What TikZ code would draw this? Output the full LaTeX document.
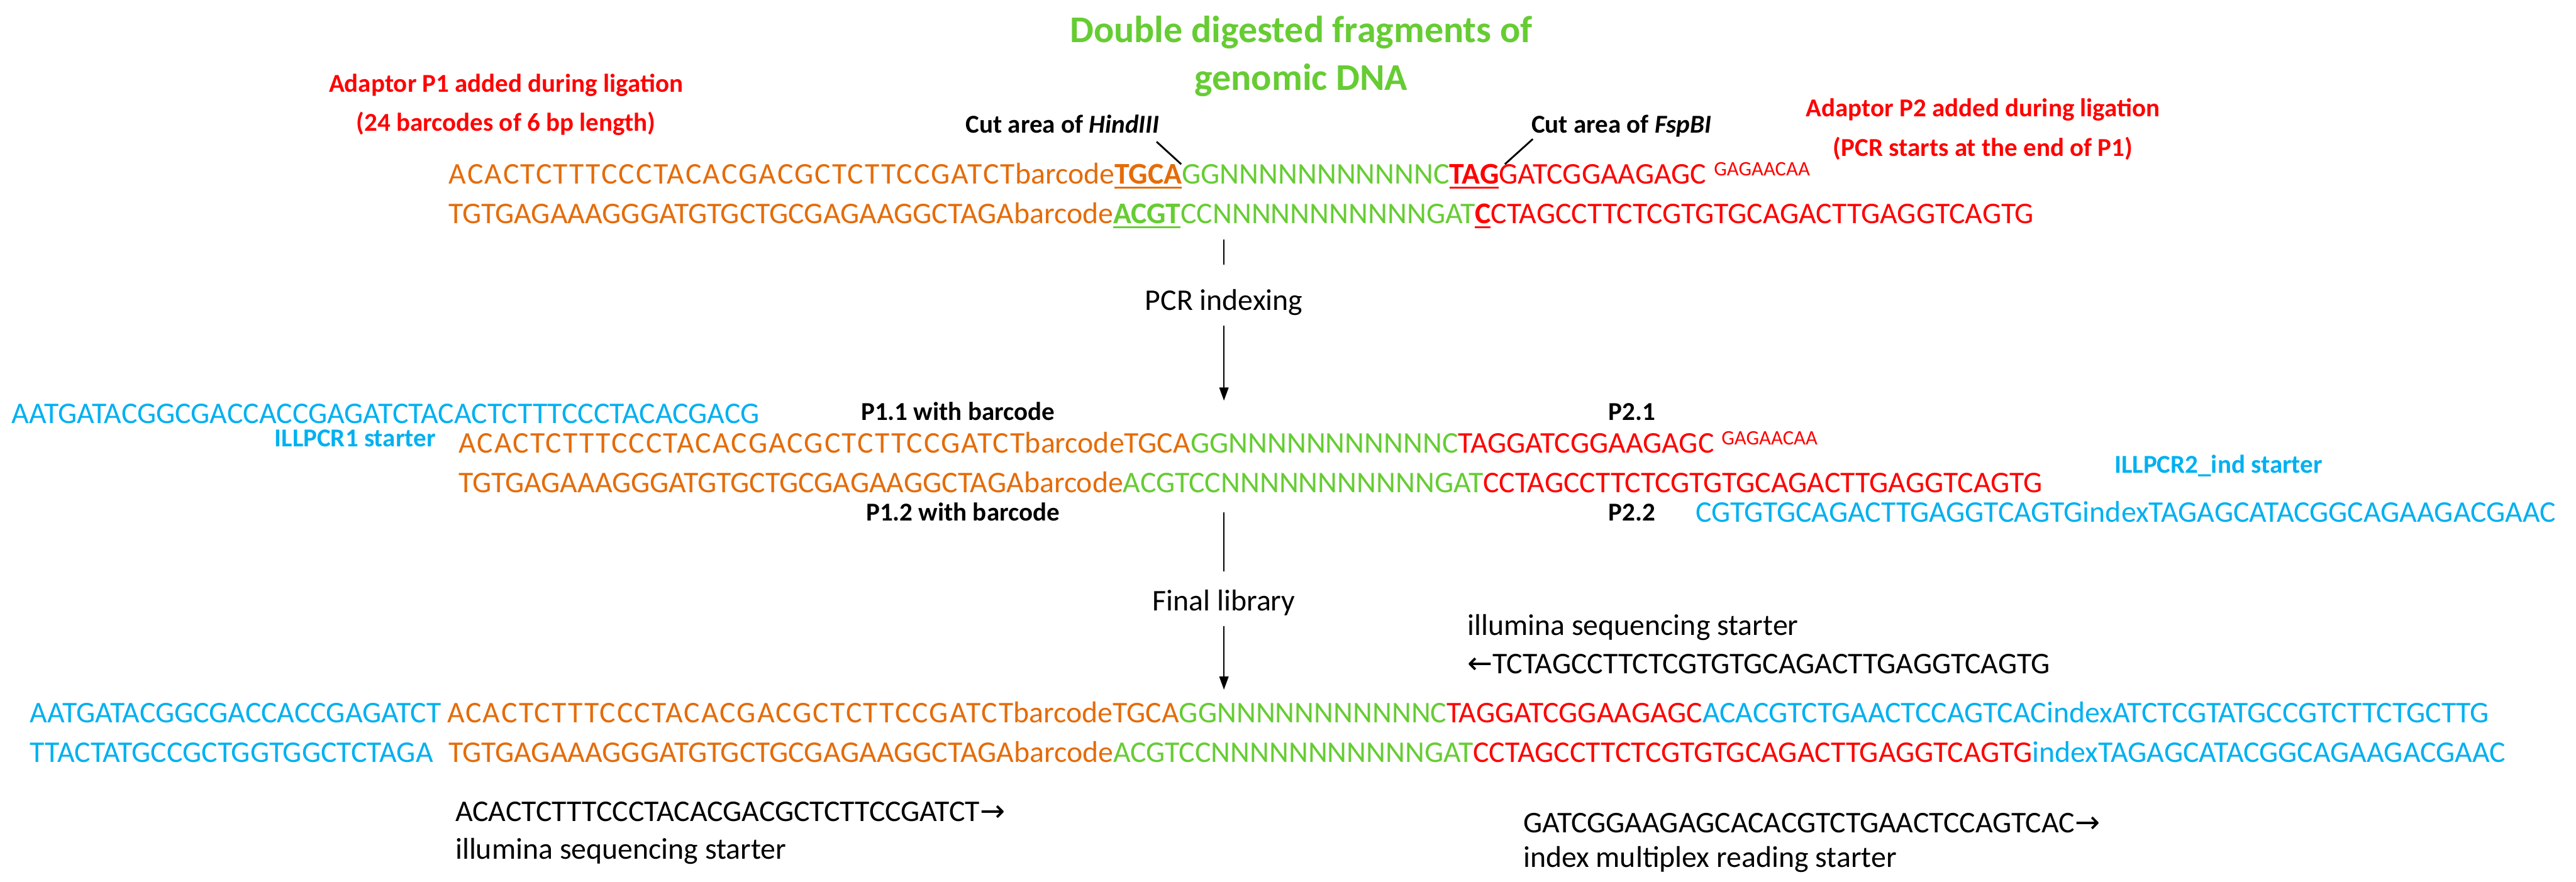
\documentclass[tikz,border=0pt]{standalone}
\usepackage{fontspec}
\setmainfont{Carlito}
\newfontfamily\arrowfont{DejaVu Sans}
\usetikzlibrary{arrows.meta}
\definecolor{dnaor}{HTML}{E46C0A}
\definecolor{dnagr}{HTML}{66CC33}
\definecolor{dnard}{HTML}{FF0000}
\definecolor{dnacy}{HTML}{00B0F0}
\newcommand\seqsize{\fontsize{18.3}{22}\selectfont}
\newcommand\cOr[1]{\textcolor{dnaor}{#1}}
\newcommand\cGr[1]{\textcolor{dnagr}{#1}}
\newcommand\cRd[1]{\textcolor{dnard}{#1}}
\newcommand\cCy[1]{\textcolor{dnacy}{#1}}
\newcommand\lspaced[1]{{\addfontfeature{LetterSpace=4.35}#1}}
\newcommand\dnaul[1]{\setbox0=\hbox{\textbf{#1}}\rlap{\rule[-3pt]{\wd0}{1.3pt}}\box0}
\newcommand\tailsup[1]{\hspace{0.25em}\raisebox{5pt}{\fontsize{12.5}{13}\selectfont #1}}
\newcommand\dnrarr{{\arrowfont →}}
\newcommand\dnlarr{{\arrowfont ←}}
\tikzset{
  seq/.style={anchor=base west, inner sep=0pt, font=\seqsize},
  lbl/.style={anchor=base west, inner sep=0pt, font=\fontsize{15.7}{19}\selectfont\bfseries},
  redlbl/.style={anchor=base, inner sep=0pt, align=center, text=dnard, font=\fontsize{15.7}{24}\selectfont\bfseries},
  flow/.style={anchor=base, inner sep=0pt, font=\seqsize},
  flowline/.style={line width=1pt},
  flowarrow/.style={line width=1pt, -{Triangle[width=5.5pt,length=8pt]}},
  cutline/.style={line width=1.1pt}
}
\begin{document}
\begin{tikzpicture}[x=1pt,y=-1pt]
\useasboundingbox (0,0) rectangle (1568,537);

% title and adaptor labels (anchor base = baseline of last line)
\node[anchor=base, inner sep=0pt, align=center, text=dnagr, font=\fontsize{23}{29}\selectfont\bfseries] (title) at (792,55) {Double digested fragments of\\genomic DNA};
\node[redlbl] (ad1) at (308,80) {Adaptor P1 added during ligation\\(24 barcodes of 6 bp length)};
\node[redlbl] (ad2) at (1207,95) {Adaptor P2 added during ligation\\(PCR starts at the end of P1)};

% cut areas
\node[lbl, anchor=base east] (hind) at (706,81) {Cut area of \textit{HindIII}};
\node[lbl] (fsp) at (932,81) {Cut area of \textit{FspBI}};
\coordinate (hcut) at (719,100);
\coordinate (fcut) at (916,100);
\draw[cutline] ([shift={(-2,5)}]hind.south east) -- (hcut);
\draw[cutline] ([shift={(1,1)}]fsp.south west) -- (fcut);

% row 1
\node[seq] (r1t) at (273,112) {\cOr{\lspaced{ACACTCTTTCCCTACACGACGCTCTTCCGATCT}barcode\dnaul{TGCA}}\cGr{GGNNNNNNNNNNNC}\cRd{\dnaul{TAG}GATCGGAAGAGC\tailsup{GAGAACAA}}};
\node[seq] (r1b) at (273,136) {\cOr{TGTGAGAAAGGGATGTGCTGCGAGAAGGCTAGAbarcode}\cGr{\dnaul{ACGT}CCNNNNNNNNNNNGAT}\cRd{\dnaul{C}CTAGCCTTCTCGTGTGCAGACTTGAGGTCAGTG}};

% PCR indexing
\coordinate (f1s) at (745,146);
\node[flow] (pcr) at (745,189) {PCR indexing};
\coordinate (f1e) at (745,244);
\draw[flowline, shorten >=15pt] (f1s) -- (pcr.north);
\draw[flowarrow, shorten <=6pt] (pcr.south) -- (f1e);

% row 2
\node[seq] (r2c) at (7,258) {\cCy{AATGATACGGCGACCACCGAGATCTACACTCTTTCCCTACACGACG}};
\node[lbl, text=dnacy] (ill1) at (167,272) {ILLPCR1 starter};
\node[lbl] (p11) at (524,256) {P1.1 with barcode};
\node[lbl] (p21) at (979,256) {P2.1};
\node[seq] (r2t) at (279,276) {\cOr{\lspaced{ACACTCTTTCCCTACACGACGCTCTTCCGATCT}barcodeTGCA}\cGr{GGNNNNNNNNNNNC}\cRd{TAGGATCGGAAGAGC\tailsup{GAGAACAA}}};
\node[seq] (r2b) at (279,300) {\cOr{TGTGAGAAAGGGATGTGCTGCGAGAAGGCTAGAbarcode}\cGr{ACGTCCNNNNNNNNNNNGAT}\cRd{CCTAGCCTTCTCGTGTGCAGACTTGAGGTCAGTG}};
\node[lbl, text=dnacy] (ill2) at (1287,288) {ILLPCR2\_ind starter};
\node[lbl] (p12) at (527,317) {P1.2 with barcode};
\node[lbl] (p22) at (979,317) {P2.2};
\node[seq] (r2i) at (1032,318) {\cCy{CGTGTGCAGACTTGAGGTCAGTGindexTAGAGCATACGGCAGAAGACGAAC}};

% Final library
\coordinate (f2s) at (745,312);
\node[flow] (fin) at (745,372) {Final library};
\coordinate (f2e) at (745,420);
\draw[flowline, shorten >=11pt] (f2s) -- (fin.north);
\draw[flowarrow, shorten <=6pt] (fin.south) -- (f2e);

% upper right starter
\node[seq] (ilr) at (893,387) {illumina sequencing starter};
\node[seq] (ilrs) at (893,410) {\dnlarr TCTAGCCTTCTCGTGTGCAGACTTGAGGTCAGTG};

% row 3
\node[seq] (r3tc) at (18,440) {\cCy{AATGATACGGCGACCACCGAGATCT}};
\node[seq] (r3t) at (272,440) {\cOr{\lspaced{ACACTCTTTCCCTACACGACGCTCTTCCGATCT}barcodeTGCA}\cGr{GGNNNNNNNNNNNC}\cRd{TAGGATCGGAAGAGC}\cCy{ACACGTCTGAACTCCAGTCACindexATCTCGTATGCCGTCTTCTGCTTG}};
\node[seq] (r3bc) at (18,464) {\cCy{TTACTATGCCGCTGGTGGCTCTAGA}};
\node[seq] (r3b) at (273,464) {\cOr{TGTGAGAAAGGGATGTGCTGCGAGAAGGCTAGAbarcode}\cGr{ACGTCCNNNNNNNNNNNGAT}\cRd{CCTAGCCTTCTCGTGTGCAGACTTGAGGTCAGTG}\cCy{indexTAGAGCATACGGCAGAAGACGAAC}};

% bottom starters
\node[seq] (bl1) at (277,500) {ACACTCTTTCCCTACACGACGCTCTTCCGATCT\dnrarr};
\node[seq] (bl2) at (277,523) {illumina sequencing starter};
\node[seq] (br1) at (927,507) {GATCGGAAGAGCACACGTCTGAACTCCAGTCAC\dnrarr};
\node[seq] (br2) at (927,528) {index multiplex reading starter};
\end{tikzpicture}
\end{document}
